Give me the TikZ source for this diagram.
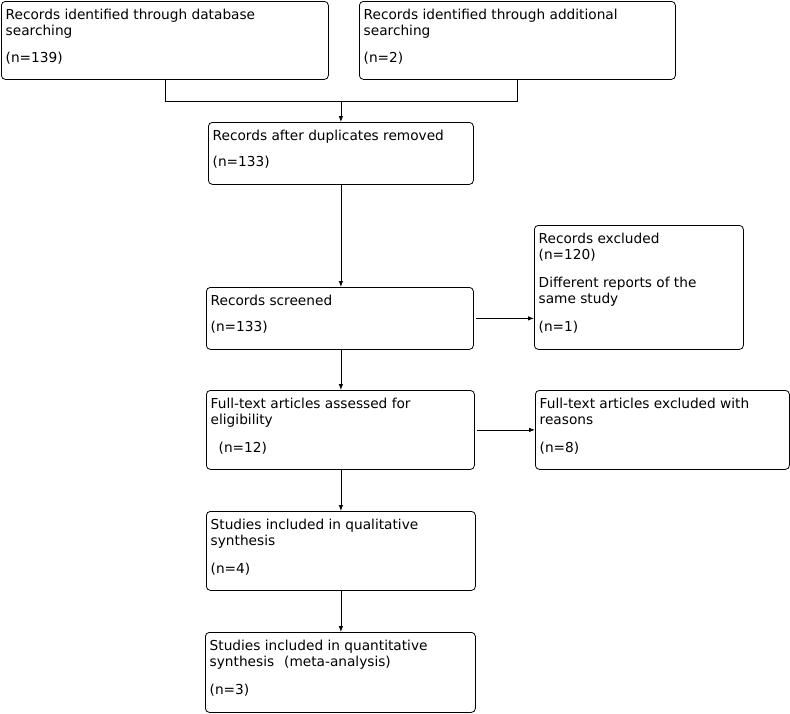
\documentclass[tikz,border=0pt]{standalone}
\usepackage{fontspec}
\setmainfont{DejaVu Sans}
\usetikzlibrary{arrows.meta}

\tikzset{
  box/.style={draw, rounded corners=4pt, line width=0.8pt, anchor=north west, inner sep=0pt},
  txt/.style={anchor=north west, align=left, inner sep=0pt, font=\fontsize{13.7}{16}\selectfont},
  arr/.style={-{Latex[length=6pt,width=4.5pt]}, line width=0.8pt},
}

\begin{document}
\begin{tikzpicture}[x=1pt, y=-1pt]
	\useasboundingbox (0,0) rectangle (790,713);

	% identification
	\node[box, minimum width=327pt, minimum height=78pt] (db) at (1,1) {};
	\node[txt] (db-t) at ([xshift=4.5pt, yshift=-7.7pt]db.north west)
		{Records identified through database\\searching\\[11pt](n=139)};
	\node[box, minimum width=316pt, minimum height=78pt] (add) at (359,1) {};
	\node[txt] (add-t) at ([xshift=4.5pt, yshift=-7.7pt]add.north west)
		{Records identified through additional\\searching\\[11pt](n=2)};

	% screening
	\node[box, minimum width=265pt, minimum height=62pt] (dup) at (208,122) {};
	\node[txt] (dup-t) at ([xshift=4.5pt, yshift=-7.7pt]dup.north west)
		{Records after duplicates removed\\[10pt](n=133)};
	\node[box, minimum width=267pt, minimum height=62pt] (scr) at (206,287) {};
	\node[txt] (scr-t) at ([xshift=4.5pt, yshift=-7.7pt]scr.north west)
		{Records screened\\[10pt](n=133)};
	\node[box, minimum width=209pt, minimum height=124pt] (exc) at (534,225) {};
	\node[txt] (exc-t) at ([xshift=4.5pt, yshift=-7.7pt]exc.north west)
		{Records excluded\\(n=120)\\[12pt]Different reports of the\\same study\\[12pt](n=1)};

	% eligibility
	\node[box, minimum width=268pt, minimum height=79pt] (full) at (206,390) {};
	\node[txt] (full-t) at ([xshift=4.5pt, yshift=-7.7pt]full.north west)
		{Full-text articles assessed for\\eligibility\\[12pt]\hspace*{8pt}(n=12)};
	\node[box, minimum width=254pt, minimum height=79pt] (fexc) at (535,390) {};
	\node[txt] (fexc-t) at ([xshift=4.5pt, yshift=-7.7pt]fexc.north west)
		{Full-text articles excluded with\\reasons\\[12pt](n=8)};

	% included
	\node[box, minimum width=269pt, minimum height=79pt] (qual) at (206,511) {};
	\node[txt] (qual-t) at ([xshift=4.5pt, yshift=-7.7pt]qual.north west)
		{Studies included in qualitative\\synthesis\\[12pt](n=4)};
	\node[box, minimum width=270pt, minimum height=80pt] (quant) at (205,632) {};
	\node[txt] (quant-t) at ([xshift=4.5pt, yshift=-7.7pt]quant.north west)
		{Studies included in quantitative\\synthesis\hspace{10pt}(meta-analysis)\\[12pt](n=3)};

	% connectors
	\coordinate (merge) at ([yshift=-22pt]dup.north |- db.south);
	\draw[line width=0.8pt] (db.south) |- (merge) -| (add.south);
	\draw[arr] (merge) -- (dup.north);
	\draw[arr] (dup.south) -- (dup.south |- scr.north);
	\draw[arr, shorten <=2.5pt] (scr.east) -- (exc.west |- scr.east);
	\draw[arr] (dup.south |- scr.south) -- (dup.south |- full.north);
	\draw[arr, shorten <=2.5pt] (full.east) -- (fexc.west |- full.east);
	\draw[arr] (dup.south |- full.south) -- (dup.south |- qual.north);
	\draw[arr] (dup.south |- qual.south) -- (dup.south |- quant.north);
\end{tikzpicture}
\end{document}
